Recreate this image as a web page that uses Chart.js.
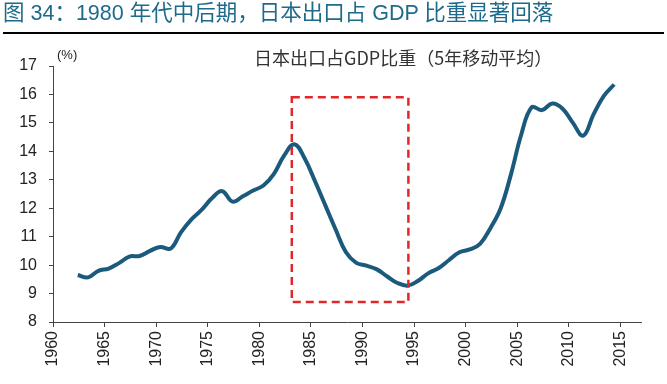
<!DOCTYPE html>
<html>
<head>
<meta charset="utf-8">
<script src="https://cdn.jsdelivr.net/npm/chart.js@4.4.1/dist/chart.umd.min.js"></script>
<style>
    body { margin: 0; background: #fff; width: 667px; height: 384px; overflow: hidden; position: relative; }
    #title { position: absolute; left: 3px; top: 1px; font: 21.5px "Liberation Sans", "Noto Sans CJK SC", sans-serif; line-height: 24px; color: #1d6a8a; white-space: nowrap; z-index: 2; }
    #rule { position: absolute; left: 3px; right: 3px; top: 32px; height: 2px; background: #000; z-index: 2; }
    #sub { position: absolute; left: 254px; top: 45px; font: 18px "Noto Sans CJK SC", sans-serif; line-height: 24px; color: #333; white-space: nowrap; z-index: 2; }
    #unit { position: absolute; left: 57px; top: 47px; font: 13px "Liberation Sans", Arial, sans-serif; color: #222; z-index: 2; }
    canvas { position: absolute; left: 0; top: 0; }
</style>
</head>
<body>
<div id="title">图 34：1980 年代中后期，日本出口占 GDP 比重显著回落</div>
<div id="rule"></div>
<div id="sub">日本出口占GDP比重（5年移动平均）</div>
<div id="unit">(%)</div>
<canvas id="exportChart" width="667" height="384"></canvas>
<script>
// Japan exports as % of GDP, 5-year moving average
const years = [
    1962, 1963, 1964, 1965, 1966, 1967, 1968, 1969, 1970, 1971,
    1972, 1973, 1974, 1975, 1976, 1977, 1978, 1979, 1980, 1981,
    1982, 1983, 1984, 1985, 1986, 1987, 1988, 1989, 1990, 1991,
    1992, 1993, 1994, 1995, 1996, 1997, 1998, 1999, 2000, 2001,
    2002, 2003, 2004, 2005, 2006, 2007, 2008, 2009, 2010, 2011,
    2012, 2013, 2014
];
const exportShare = [
    9.65, 9.57, 9.80, 9.88, 10.07, 10.30, 10.32, 10.50, 10.64, 10.58,
    11.15, 11.60, 11.94, 12.35, 12.60, 12.23, 12.42, 12.62, 12.80, 13.20,
    13.85, 14.25, 13.75, 12.95, 12.10, 11.25, 10.45, 10.08, 9.98, 9.85,
    9.60, 9.37, 9.28, 9.45, 9.72, 9.90, 10.18, 10.45, 10.55, 10.75,
    11.30, 12.00, 13.20, 14.60, 15.55, 15.45, 15.68, 15.50, 15.00, 14.55,
    15.30, 15.95, 16.35
];
const yTicks = [8, 9, 10, 11, 12, 13, 14, 15, 16, 17];
const xTicks = [1960, 1965, 1970, 1975, 1980, 1985, 1990, 1995, 2000, 2005, 2010, 2015];

// highlighted period (years) and value range of the dashed box
const boxYears = [1983.15, 1994.45];
const boxRange = [8.7, 15.9];

const points = years.map((y, i) => ({ x: y + 0.4, y: exportShare[i] }));

const boxPlugin = {
    id: 'periodBox',
    afterDatasetsDraw(chart) {
        const { ctx, scales: { x, y } } = chart;
        const x0 = x.getPixelForValue(boxYears[0]);
        const x1 = x.getPixelForValue(boxYears[1]);
        const y0 = y.getPixelForValue(boxRange[1]);
        const y1 = y.getPixelForValue(boxRange[0]);
        ctx.save();
        ctx.strokeStyle = '#e0282a';
        ctx.lineWidth = 2.5;
        ctx.setLineDash([8, 5]);
        ctx.strokeRect(x0, y0, x1 - x0, y1 - y0);
        ctx.restore();
    }
};

const tickFont = { family: '"Liberation Sans", Arial, sans-serif', size: 16 };

new Chart(document.getElementById('exportChart'), {
    type: 'line',
    data: {
        datasets: [{
            data: points,
            borderColor: '#1b5a7c',
            borderWidth: 4,
            pointRadius: 0,
            tension: 0.4,
            fill: false
        }]
    },
    options: {
        responsive: false,
        animation: false,
        layout: { padding: { top: 66, right: 26, left: 0, bottom: 0 } },
        plugins: { legend: { display: false }, tooltip: { enabled: false } },
        scales: {
            x: {
                type: 'linear',
                min: 1960,
                max: 2017,
                afterBuildTicks: axis => { axis.ticks = xTicks.map(v => ({ value: v })); },
                afterFit: axis => { axis.height = 62; },
                ticks: {
                    font: tickFont, color: '#222', padding: 4,
                    minRotation: 90, maxRotation: 90, autoSkip: false,
                    callback: value => String(value)
                },
                grid: { drawOnChartArea: false, drawTicks: true, tickLength: 5, color: '#444' },
                border: { color: '#444', width: 1 }
            },
            y: {
                min: 8,
                max: 17,
                afterBuildTicks: axis => { axis.ticks = yTicks.map(v => ({ value: v })); },
                afterFit: axis => { axis.width = 53; },
                ticks: { font: tickFont, color: '#222', padding: 12 },
                grid: { drawOnChartArea: false, drawTicks: true, tickLength: 4, color: '#444' },
                border: { color: '#444', width: 1 }
            }
        }
    },
    plugins: [boxPlugin]
});
</script>
</body>
</html>
